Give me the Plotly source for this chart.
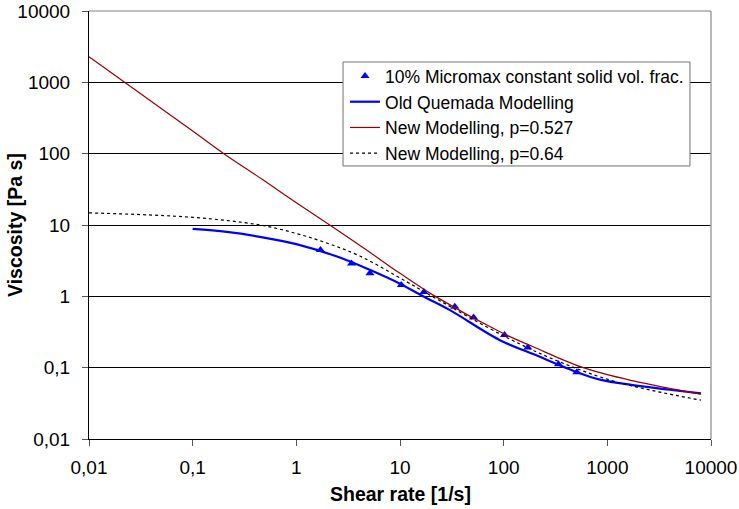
import plotly.graph_objects as go

# Measured data (10% Micromax)
shear_meas = [1.71, 3.41, 5.13, 10.3, 17.0, 33.8, 51.3, 102, 171, 338, 508]
visc_meas = [4.45, 2.88, 2.11, 1.44, 1.15, 0.713, 0.506, 0.286, 0.192, 0.112, 0.0865]

# Old Quemada modelling
shear_old = [0.1, 0.213, 0.445, 1, 2.63, 5.1, 10.3, 16.7, 30.3, 92, 193, 505, 850, 1760, 4000, 8000]
visc_old = [8.8, 8.0, 6.83, 5.4, 3.5, 2.35, 1.47, 1.0, 0.64, 0.243, 0.155, 0.087, 0.068, 0.057, 0.049, 0.0435]

# New modelling p=0.527
shear_new1 = [0.01, 0.1, 0.2, 0.48, 1, 2.1, 4.76, 10, 20.9, 92, 193, 585, 1775, 8000]
visc_new1 = [2290, 208, 100, 42.6, 20.5, 10, 4.45, 2.1, 1.04, 0.318, 0.196, 0.1, 0.0653, 0.0425]

# New modelling p=0.64
shear_new2 = [0.01, 0.1, 0.445, 1, 1.96, 4.1, 11.6, 20.9, 107, 350, 1230, 8000]
visc_new2 = [14.8, 12.8, 10, 7.6, 5.6, 3.67, 1.6, 0.98, 0.265, 0.12, 0.063, 0.035]

tick_vals = [0.01, 0.1, 1, 10, 100, 1000, 10000]
tick_text = ["0,01", "0,1", "1", "10", "100", "1000", "10000"]

names = ["10% Micromax constant solid vol. frac.", "Old Quemada Modelling",
         "New Modelling, p=0.527", "New Modelling, p=0.64"]
x_title = "Shear rate [1/s]"
y_title = "Viscosity [Pa s]"

fig = go.Figure()
fig.add_trace(go.Scatter(x=shear_meas, y=visc_meas, mode="markers", name=names[0],
                         marker=dict(symbol="triangle-up", size=8, color="#0000FF")))
fig.add_trace(go.Scatter(x=shear_old, y=visc_old, mode="lines", name=names[1],
                         line=dict(color="#0000FF", width=2.2, shape="spline")))
fig.add_trace(go.Scatter(x=shear_new1, y=visc_new1, mode="lines", name=names[2],
                         line=dict(color="#990000", width=1.2, shape="spline")))
fig.add_trace(go.Scatter(x=shear_new2, y=visc_new2, mode="lines", name=names[3],
                         line=dict(color="#000000", width=1.2, dash="dot", shape="spline")))

fig.update_layout(
    width=739, height=509,
    margin=dict(l=89, r=28, t=11, b=70, autoexpand=False),
    plot_bgcolor="white", paper_bgcolor="white",
    font=dict(family="Liberation Sans, Arial, sans-serif", size=19, color="black"),
    legend=dict(x=0.4116, y=0.890, xanchor="left", yanchor="top", bgcolor="rgba(0,0,0,0)",
                borderwidth=0, font=dict(size=17.5)),
    xaxis=dict(type="log", range=[-2, 4], tickvals=tick_vals, ticktext=tick_text,
               ticks="outside", ticklen=6, tickcolor="#555", showgrid=False, automargin=False,
               ticklabelstandoff=5,
               showline=True, linecolor="black", linewidth=1),
    yaxis=dict(type="log", range=[-2, 4], tickvals=tick_vals, ticktext=tick_text,
               ticks="outside", ticklen=6, tickcolor="#555", showgrid=True, automargin=False,
               ticklabelstandoff=8,
               gridcolor="black", gridwidth=1, showline=True, linecolor="black", linewidth=1),
    annotations=[
        dict(text="<b>" + x_title + "</b>", xref="paper", yref="paper", x=0.5, y=-0.1285,
             xanchor="center", yanchor="middle", showarrow=False, font=dict(size=19.5)),
        dict(text="<b>" + y_title + "</b>", xref="paper", yref="paper", x=-0.119, y=0.5,
             xanchor="center", yanchor="middle", textangle=-90, showarrow=False,
             font=dict(size=19.5)),
    ],
    shapes=[
        dict(type="line", xref="paper", yref="paper", x0=1, x1=1, y0=0, y1=1,
             line=dict(color="#a0a0a0", width=1.5)),
        dict(type="line", xref="paper", yref="paper", x0=0, x1=1, y0=1, y1=1,
             line=dict(color="#808080", width=1)),
        dict(type="rect", xref="paper", yref="paper", x0=0.4084, x1=0.9662, y0=0.6379, y1=0.8808,
             fillcolor="white", line=dict(color="#707070", width=1), layer="above"),
    ],
)

fig.write_html("out.html")
